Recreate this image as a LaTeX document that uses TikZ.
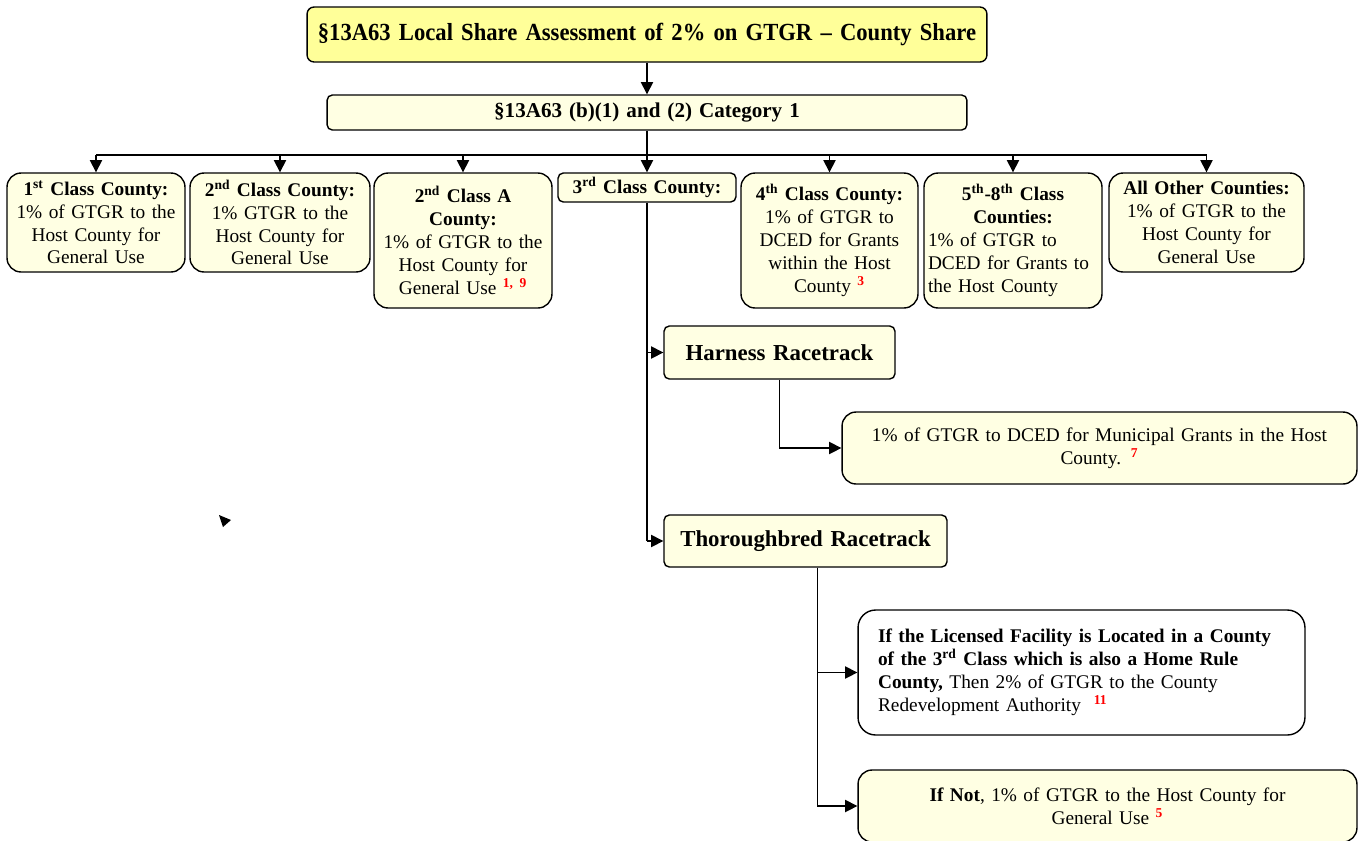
\documentclass[tikz,border=0pt]{standalone}
\usepackage{fontspec}
\setmainfont{Liberation Serif}
\newfontfamily\narrowserif{Liberation Serif}[FakeStretch=0.92, Ligatures=TeX]
\usepackage{tikz}
\usetikzlibrary{positioning,arrows.meta}

\definecolor{titlefill}{HTML}{FFFF99}
\definecolor{boxfill}{HTML}{FFFFE3}
\newcommand{\rednote}[1]{\textsuperscript{\textcolor{red}{\textbf{#1}}}}

\tikzset{
  box/.style={draw, line width=0.8pt, fill=boxfill, rounded corners=8pt, align=center,
    inner xsep=0.08cm, inner ysep=0pt, font=\fontsize{11}{13}\selectfont},
  smallbox/.style={box, rounded corners=3pt},
  headbox/.style={box, rounded corners=3pt, font=\fontsize{13}{15}\selectfont\bfseries},
  arr/.style={-{Triangle[length=7pt,width=7pt]}, line width=0.8pt},
  link/.style={line width=0.8pt}
}

\begin{document}
\begin{tikzpicture}[x=0.02cm, y=-0.02cm]
				\useasboundingbox (0,0) rectangle (1360,840);

				% top of the tree
				\node [box, fill=titlefill, rounded corners=4pt, text width=13.44cm, minimum height=1.10cm,
				  font=\narrowserif\fontsize{14}{16}\selectfont\bfseries] (title) at (647,34.5)
				  {\S13A63 Local Share Assessment of 2\% on GTGR \textendash{} County Share};
				\node [smallbox, text width=12.64cm, minimum height=0.70cm,
				  font=\fontsize{12}{14}\selectfont\bfseries] (cat) at (647,112.5)
				  {\S13A63 (b)(1) and (2) Category 1};
				\draw [arr] (title) to (cat);

				% county classes
				\node [box, text width=3.40cm, minimum height=1.98cm] (c1) at (96,222.5)
				  {\textbf{1\textsuperscript{st} Class County:}\\ 1\% of GTGR to the\\ Host County for\\ General Use};
				\node [box, text width=3.44cm, minimum height=1.98cm] (c2) at (280,222.5)
				  {\textbf{2\textsuperscript{nd} Class County:}\\ 1\% GTGR to the\\ Host County for\\ General Use};
				\node [box, text width=3.40cm, minimum height=2.70cm] (c3) at (463,240.5)
				  {\textbf{2\textsuperscript{nd} Class A}\\ \textbf{County:}\\ 1\% of GTGR to the\\ Host County for\\ General Use \rednote{1, 9}};
				\node [smallbox, text width=3.40cm, minimum height=0.58cm] (c4) at (647,187.5)
				  {\textbf{3\textsuperscript{rd} Class County:}};
				\node [box, text width=3.38cm, minimum height=2.70cm] (c5) at (829.5,240.5)
				  {\textbf{4\textsuperscript{th} Class County:}\\ 1\% of GTGR to\\ DCED for Grants\\ within the Host\\ County \rednote{3}};
				\node [box, text width=3.40cm, minimum height=2.70cm] (c6) at (1013,240.5)
				  {\textbf{5\textsuperscript{th}-8\textsuperscript{th} Class}\\ \textbf{Counties:}\par
				   {\raggedright 1\% of GTGR to\\ DCED for Grants to\\ the Host County\par}};
				\node [box, text width=3.74cm, minimum height=1.98cm] (c7) at (1206.5,222.5)
				  {\textbf{All Other Counties:}\\ 1\% of GTGR to the\\ Host County for\\ General Use};

				\coordinate (bus) at (0,155);
				\draw [link] (cat) to (cat.south |- bus);
				\draw [link] (c1.north |- bus) to (c7.north |- bus);
				\foreach \n in {c1,c2,c3,c4,c5,c6,c7}
				  \draw [arr] (\n.north |- bus) to (\n.north);

				% racetracks under the 3rd class
				\node [headbox, text width=4.46cm, minimum height=1.06cm] (harn) at (779.5,352.5) {Harness Racetrack};
				\node [headbox, text width=5.50cm, minimum height=1.04cm] (thor) at (805.5,541) {Thoroughbred Racetrack};
				\draw [link] (c4) to (c4.south |- thor.west);
				\draw [arr] (c4.south |- harn.west) to (harn.west);
				\draw [arr] (c4.south |- thor.west) to (thor.west);

				\node [box, text width=10.14cm, minimum height=1.44cm] (muni) at (1099.5,448)
				  {1\% of GTGR to DCED for Municipal Grants in the Host\\ County. \rednote{7}};
				\draw [arr] (harn) |- (muni.west);

				\node [box, fill=white, rounded corners=10pt, align=left, inner xsep=0.4cm,
				  text width=8.14cm, minimum height=2.50cm] (home) at (1081.5,672.5)
				  {\textbf{If the Licensed Facility is Located in a County}\\
				   \textbf{of the 3\textsuperscript{rd} Class which is also a Home Rule}\\
				   \textbf{County,} Then 2\% of GTGR to the County\\
				   Redevelopment Authority\ \ \rednote{11}};
				\node [box, text width=9.82cm, minimum height=1.44cm] (notb) at (1107.5,806)
				  {\textbf{If Not}, 1\% of GTGR to the Host County for\\ General Use \rednote{5}};
				\coordinate (tdrop) at ([xshift=0.24cm]thor.south);
				\draw [arr] (tdrop) |- (notb.west);
				\draw [arr] (tdrop |- home.west) to (home.west);

				% stray tip
				\fill (219,515) -- (231,520) -- (223,527) -- cycle;
			\end{tikzpicture}
\end{document}
